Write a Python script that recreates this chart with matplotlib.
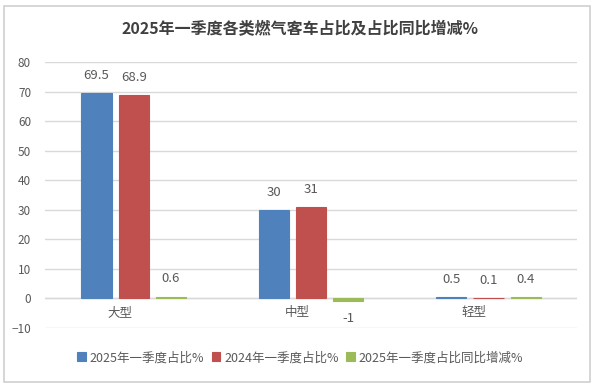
import numpy as np
import matplotlib.pyplot as plt
from matplotlib.patches import Rectangle

plt.rcParams['font.family'] = ['Noto Sans CJK SC', 'DejaVu Sans']

categories = ['大型', '中型', '轻型']
series_names = ['2025年一季度占比%', '2024年一季度占比%', '2025年一季度占比同比增减%']
share_2025 = [69.5, 30, 0.5]
share_2024 = [68.9, 31, 0.1]
share_change = [0.6, -1, 0.4]
labels_2025 = ['69.5', '30', '0.5']
labels_2024 = ['68.9', '31', '0.1']
labels_change = ['0.6', '-1', '0.4']
y_ticks = [-10, 0, 10, 20, 30, 40, 50, 60, 70, 80]

colors = ['#4F81BD', '#C0504D', '#9BBB59']
txt = '#595959'

fig = plt.figure(figsize=(6, 3.88), dpi=100)
fig.patches.append(Rectangle((0.006, 0.016), 0.977, 0.968, transform=fig.transFigure,
                             fill=False, edgecolor='#D0D0D0', linewidth=1.2))
ax = fig.add_axes([0.075, 0.155, 0.887, 0.685])

x = np.arange(len(categories))
w = 0.17
step = 0.21
all_vals = [share_2025, share_2024, share_change]
all_labels = [labels_2025, labels_2024, labels_change]
for i, (vals, labs) in enumerate(zip(all_vals, all_labels)):
    pos = x + (i - 1) * step
    bars = ax.bar(pos, vals, width=w, color=colors[i], edgecolor=colors[i],
                  linewidth=0.8, label=series_names[i], zorder=3)
    for b, v, lab in zip(bars, vals, labs):
        if v >= 0:
            ax.annotate(lab, (b.get_x() + b.get_width() / 2, v), xytext=(0, 8),
                        textcoords='offset points', ha='center', va='bottom',
                        fontsize=9.5, color=txt)
        else:
            ax.annotate(lab, (b.get_x() + b.get_width() / 2, v), xytext=(0, -8),
                        textcoords='offset points', ha='center', va='top',
                        fontsize=9.5, color=txt)

for xi, c in zip(x, categories):
    ax.text(xi - 0.08, -4.7, c, ha='center', va='center', fontsize=9, color=txt)

ax.set_xlim(-0.5, 2.5)
ax.set_ylim(-10, 80)
ax.set_yticks(y_ticks)
ax.set_xticks([])
ax.tick_params(axis='y', length=0, labelsize=8.5, labelcolor=txt, pad=10)
ax.grid(axis='y', color='#D9D9D9', linewidth=1, zorder=0)
for s in ax.spines.values():
    s.set_visible(False)
ax.axhline(0, color='#D9D9D9', linewidth=1, zorder=1)

fig.text(0.5, 0.925, '2025年一季度各类燃气客车占比及占比同比增减%', ha='center', va='center',
         fontsize=11.5, fontweight='bold', color='#404040')
fig.legend(loc='center', bbox_to_anchor=(0.5, 0.078), ncol=3, frameon=False,
           fontsize=9, handlelength=0.7, handleheight=0.7, handletextpad=0.3,
           columnspacing=0.6, labelcolor=txt)

fig.savefig('out.png', dpi=100)
